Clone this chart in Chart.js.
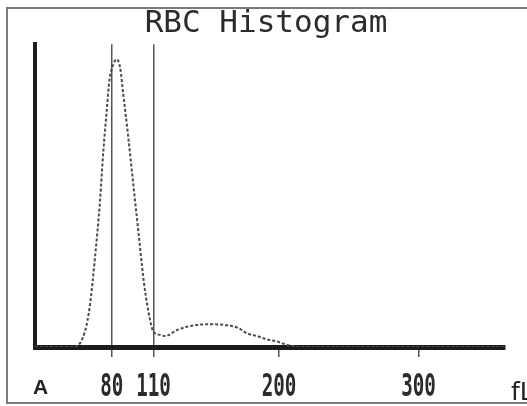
<!DOCTYPE html>
<html>
<head>
<meta charset="utf-8">
<script src="https://cdn.jsdelivr.net/npm/chart.js@4"></script>
<style>
html, body { margin: 0; padding: 0; background: #fff; overflow: hidden; }
#wrap { position: relative; width: 527px; height: 406px; overflow: hidden; }
#rahmen { position: absolute; left: 6px; top: 7px; width: 600px; height: 393px;
          border-top: 2px solid #7a7a7a; border-left: 2px solid #7a7a7a; border-bottom: 2px solid #7a7a7a; border-right: none; }
#rbc { position: absolute; left: 0; top: 0; }
.lbl { position: absolute; color: #222; line-height: 1; }
#lblA { left: 33px; top: 375px; font: bold 21px "Liberation Sans", Arial, sans-serif; }
#lblFl { left: 511px; top: 377px; font: 25px "DejaVu Sans", sans-serif; }
</style>
</head>
<body>
<div id="wrap">
  <div id="rahmen"></div>
  <canvas id="rbc" width="527" height="406"></canvas>
  <div class="lbl" id="lblA">A</div>
  <div class="lbl" id="lblFl">fL</div>
</div>
<script>
// Werte (Volumen in fL, relative Anzahl)
const volumen = [25, 45, 53.6, 60.8, 64.4, 68, 71.6, 74, 76.4, 78.3, 81.2, 83.6, 86, 88.3, 91.9, 95.5, 99.1, 102.7, 106.3, 109.9,
                 114.7, 118.3, 126.8, 134, 141.2, 153.1, 165.1, 171.1, 177.1, 184.3, 191.5, 198.7, 202.3, 210, 220, 362];
const anzahl  = [0, 0, 0.1, 5.1, 13.9, 29.5, 48.1, 64.7, 77.9, 87.8, 93.4, 95, 92.3, 83.4, 69.2, 53.6, 38.2, 22.8, 11.7, 5.1,
                 4, 3.6, 5.6, 6.7, 7.3, 7.5, 7, 6.2, 4.5, 3.6, 2.5, 1.8, 1.2, 0.3, 0, 0];
const tickWerte = [80, 110, 200, 300];
const markerWerte = [80, 110];   // Diskriminatoren, als lange Linien
const titel = "RBC Histogram";

const punkte = volumen.map((v, i) => ({ x: v, y: anzahl[i] }));

// Tick-Beschriftung schmal gezeichnet (Thermodrucker-Schrift)
const tickBeschriftung = {
    id: 'tickBeschriftung',
    afterDraw(chart) {
        const ctx = chart.ctx;
        const xs = chart.scales.x;
        ctx.save();
        ctx.fillStyle = '#2b2b2b';
        ctx.font = 'bold 32px "DejaVu Sans Mono", monospace';
        ctx.textAlign = 'center';
        ctx.textBaseline = 'alphabetic';
        tickWerte.forEach(v => {
            ctx.save();
            ctx.translate(xs.getPixelForValue(v), xs.top + 49);
            ctx.scale(0.6, 1);
            ctx.fillText(String(v), 0, 0);
            ctx.restore();
        });
        ctx.restore();
    }
};

new Chart(document.getElementById('rbc').getContext('2d'), {
    type: 'line',
    data: {
        datasets: [{
            data: punkte,
            borderColor: '#4a4a4a',
            borderWidth: 2,
            borderDash: [3, 2],
            pointRadius: 0,
            fill: false,
            cubicInterpolationMode: 'monotone'
        }]
    },
    options: {
        responsive: false,
        animation: false,
        layout: { padding: { left: 27, right: 22, top: 0, bottom: 49 } },
        plugins: {
            legend: { display: false },
            tooltip: { enabled: false },
            title: {
                display: true,
                text: titel,
                color: '#2b2b2b',
                font: { family: '"DejaVu Sans Mono", monospace', size: 31, weight: 'normal' },
                padding: { top: 5, bottom: 2 }
            }
        },
        scales: {
            x: {
                type: 'linear',
                min: 25,
                max: 362,
                afterBuildTicks: (scale) => { scale.ticks = tickWerte.map(v => ({ value: v })); },
                ticks: { display: false },
                grid: {
                    color: (c) => (c.tick && markerWerte.includes(c.tick.value)) ? '#555' : 'rgba(0,0,0,0)',
                    lineWidth: 1.5,
                    tickColor: '#555',
                    tickWidth: 1.5,
                    tickLength: 10
                },
                border: { color: '#1c1c1c', width: 5 }
            },
            y: {
                min: 0,
                max: 100,
                ticks: { display: false },
                grid: { display: false },
                border: { color: '#1c1c1c', width: 4 }
            }
        }
    },
    plugins: [tickBeschriftung]
});
</script>
</body>
</html>
